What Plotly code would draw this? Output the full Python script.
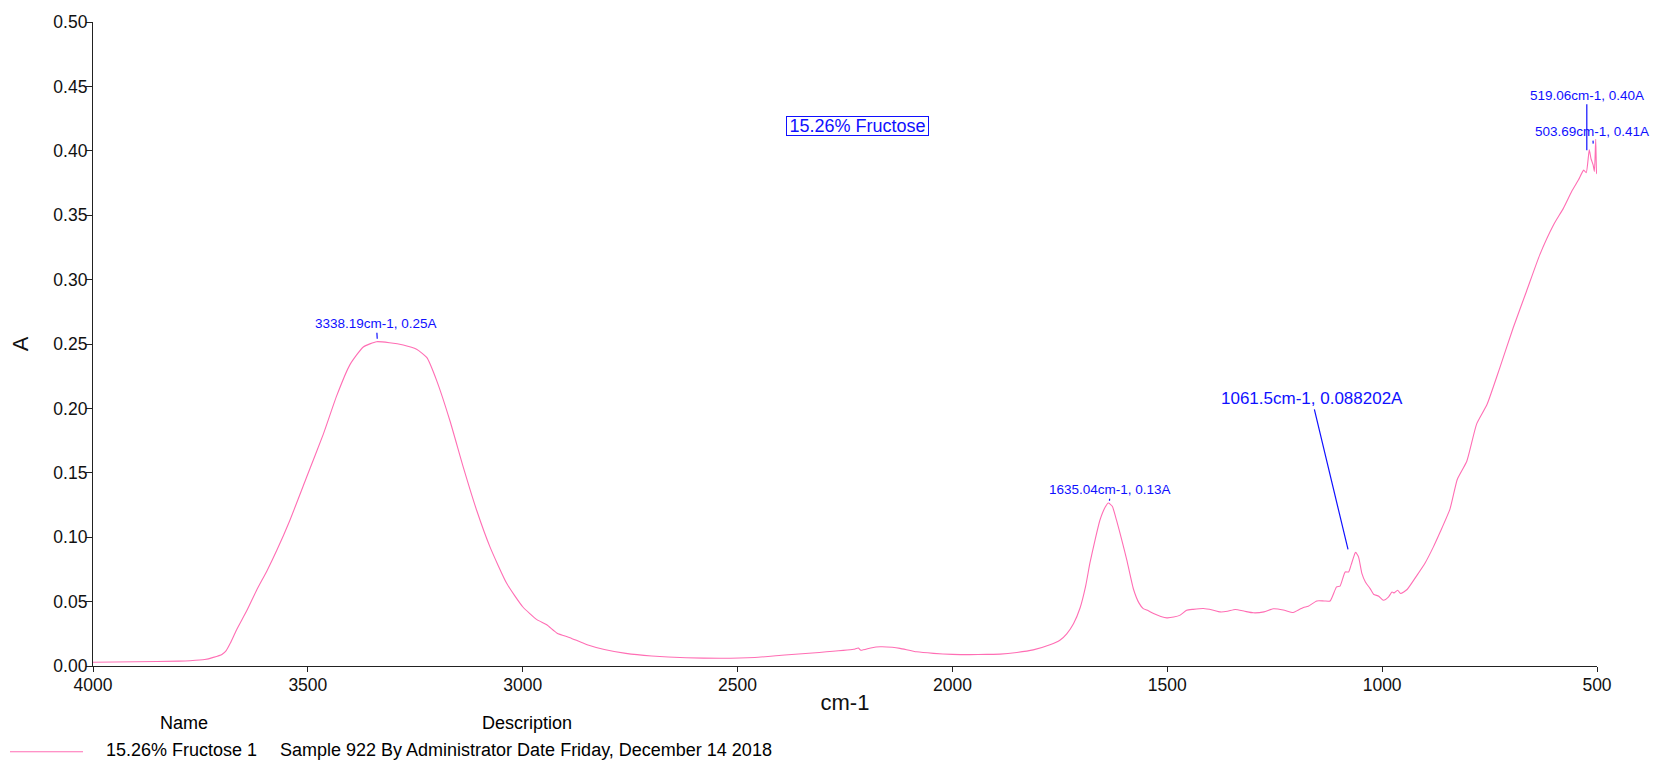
import numpy as np
import plotly.graph_objects as go

# ---------------- data ----------------
wavenumber = [4000, 3900, 3800, 3774, 3740, 3720, 3700, 3690, 3680, 3666, 3642, 3619, 3595, 3572,
              3542, 3503, 3464, 3433, 3402, 3371, 3340, 3310, 3278, 3247, 3223, 3200, 3169, 3138,
              3107, 3076, 3037, 3000, 2967, 2944, 2920, 2890, 2850, 2810, 2760, 2700, 2620, 2540,
              2460, 2390, 2310, 2230, 2219, 2213, 2190, 2168, 2140, 2122, 2083, 2044, 2000, 1960,
              1920, 1889, 1850, 1812, 1773, 1750, 1734, 1718, 1703, 1690, 1680, 1668, 1657, 1645,
              1637, 1628, 1618, 1606, 1594, 1579, 1566, 1556, 1545, 1532, 1515, 1501, 1485, 1470,
              1455, 1440, 1416, 1395, 1377, 1360, 1342, 1320, 1300, 1275, 1253, 1230, 1207, 1195,
              1183, 1172, 1152, 1135, 1121, 1106, 1098, 1086, 1078, 1072, 1063, 1061.5, 1055, 1047,
              1039, 1028, 1020, 1008, 997, 985, 977, 972, 964, 957, 942, 919, 900, 881, 865, 842,
              825, 803, 780, 756, 726, 695, 664, 633, 601, 578, 559, 543, 531, 525, 518, 514, 509,
              506, 503, 501, 500]
absorbance = [0.0029, 0.0033, 0.0038, 0.0041, 0.0050, 0.0067, 0.0090, 0.0120, 0.0180, 0.028, 0.043,
              0.059, 0.074, 0.090, 0.113, 0.1465, 0.180, 0.2097, 0.234, 0.2477, 0.2518, 0.2510,
              0.2492, 0.2459, 0.2394, 0.2214, 0.190, 0.154, 0.1207, 0.0923, 0.064, 0.046, 0.036,
              0.032, 0.0255, 0.022, 0.0165, 0.0128, 0.0098, 0.0078, 0.0064, 0.0060, 0.0066, 0.0085,
              0.0105, 0.0130, 0.0140, 0.0122, 0.0140, 0.0149, 0.0145, 0.0137, 0.0110, 0.0098,
              0.0090, 0.0088, 0.0090, 0.0092, 0.0105, 0.0125, 0.0165, 0.0200, 0.025, 0.033, 0.045,
              0.062, 0.080, 0.098, 0.113, 0.123, 0.1265, 0.124, 0.113, 0.098, 0.082, 0.060, 0.049,
              0.0446, 0.043, 0.0408, 0.0385, 0.0374, 0.0380, 0.0395, 0.0433, 0.0440, 0.0446,
              0.0435, 0.0420, 0.0425, 0.0439, 0.0425, 0.0413, 0.0420, 0.0444, 0.0435, 0.0415,
              0.0435, 0.0454, 0.0464, 0.0505, 0.0505, 0.0505, 0.0614, 0.0620, 0.0730, 0.0730,
              0.0787, 0.0877, 0.0882, 0.0847, 0.0717, 0.0652, 0.0601, 0.0557, 0.0542, 0.0511,
              0.0537, 0.0575, 0.0568, 0.0588, 0.0563, 0.0594, 0.0704, 0.080, 0.0923, 0.104, 0.122,
              0.145, 0.159, 0.188, 0.203, 0.2317, 0.2626, 0.291, 0.3194, 0.3426, 0.3555, 0.3684,
              0.3775, 0.385, 0.383, 0.4007, 0.394, 0.389, 0.384, 0.409, 0.383, 0.382]

peak_wn = [3338.19, 1635.04, 1061.5, 519.06, 503.69]
peak_labels = ["3338.19cm-1, 0.25A", "1635.04cm-1, 0.13A", "1061.5cm-1, 0.088202A",
               "519.06cm-1, 0.40A", "503.69cm-1, 0.41A"]

x_ticks = [4000, 3500, 3000, 2500, 2000, 1500, 1000, 500]
y_ticks = [0.00, 0.05, 0.10, 0.15, 0.20, 0.25, 0.30, 0.35, 0.40, 0.45, 0.50]

series_name = "15.26% Fructose 1"
series_desc = "Sample 922 By Administrator Date Friday, December 14 2018"
chart_label = "15.26% Fructose"

# ---------------- layout constants ----------------
W, H = 1659, 762
ML, MR, MT, MB = 93, 62, 20, 96
PW, PH = W - ML - MR, H - MT - MB
FONT = "Liberation Sans, Arial, sans-serif"
PINK = "#ff6eb4"
BLUE = "#1010ff"
AX = "#222222"


def px(xp):
    return (xp - ML) / PW


def py(yp):
    return (H - MB - yp) / PH


fig = go.Figure()
fig.add_trace(go.Scatter(x=wavenumber, y=absorbance, mode="lines",
                         line=dict(color=PINK, width=1.1, shape="spline", smoothing=0.5),
                         showlegend=False, hoverinfo="x+y"))

# peak labels with leader lines
inc_x = np.array(wavenumber[::-1], dtype=float)
inc_y = np.array(absorbance[::-1], dtype=float)
label_style = [  # (font size, ax, ay, xshift)
    (13.5, -1, -18, 0),
    (13.5, 1, -14, 0),
    (17, -37, -154, -7),
    (13.5, 0, -58, -2),
    (13.5, -1, -15, -2),
]
for wn, txt, (fs, ax, ay, xs) in zip(peak_wn, peak_labels, label_style):
    yv = float(np.interp(wn, inc_x, inc_y))
    fig.add_annotation(x=wn, y=yv, xref="x", yref="y", text=txt, showarrow=True,
                       arrowhead=0, arrowwidth=1.2, arrowcolor=BLUE, ax=ax, ay=ay,
                       standoff=3, xshift=xs,
                       font=dict(family=FONT, size=fs, color=BLUE))

# boxed chart label
fig.add_annotation(x=px(857.6), y=py(124), xref="paper", yref="paper", text=chart_label,
                   xanchor="center", yanchor="middle", width=141, height=18, align="center",
                   showarrow=False, font=dict(family=FONT, size=18, color=BLUE),
                   bordercolor=BLUE, borderwidth=1, borderpad=0, bgcolor="white")

# bottom legend table
legend_items = [("Name", 184, 723.5, "center"), ("Description", 527, 723.5, "center"),
                (series_name, 104, 750.5, "left"), (series_desc, 278, 750.5, "left")]
for txt, xp, yp, anc in legend_items:
    fig.add_annotation(x=px(xp), y=py(yp), xref="paper", yref="paper", text=txt,
                       xanchor=anc, yanchor="middle", showarrow=False,
                       font=dict(family=FONT, size=18, color="#000"))
fig.add_shape(type="line", xref="paper", yref="paper", x0=px(10), x1=px(83),
              y0=py(752), y1=py(752), line=dict(color=PINK, width=1.2))

fig.update_layout(
    width=W, height=H, autosize=False,
    margin=dict(l=ML, r=MR, t=MT, b=MB, pad=0),
    paper_bgcolor="white", plot_bgcolor="white",
    font=dict(family=FONT, size=17.5, color="#111"),
    showlegend=False,
    xaxis=dict(range=[4000, 500], tickmode="array", tickvals=x_ticks,
               ticktext=[str(t) for t in x_ticks], showgrid=False, zeroline=False,
               showline=True, linecolor=AX, linewidth=1.2, ticks="outside", ticklen=5,
               tickcolor=AX, tickfont=dict(family=FONT, size=17.5, color="#111"),
               ticklabelstandoff=-2,
               title=dict(text="cm-1", font=dict(family=FONT, size=22, color="#111"), standoff=0)),
    yaxis=dict(range=[0, 0.5], tickmode="array", tickvals=y_ticks,
               ticktext=[f"{t:.2f}" for t in y_ticks], showgrid=False, zeroline=False,
               showline=True, linecolor=AX, linewidth=1.2, ticks="outside", ticklen=6,
               tickcolor=AX, tickfont=dict(family=FONT, size=17.5, color="#111"),
               ticklabelstandoff=-5,
               title=dict(text="A", font=dict(family=FONT, size=22, color="#111"), standoff=18)),
)

fig.write_html("out.html", config={"displayModeBar": False},
               post_script="document.body.style.margin='0';")
